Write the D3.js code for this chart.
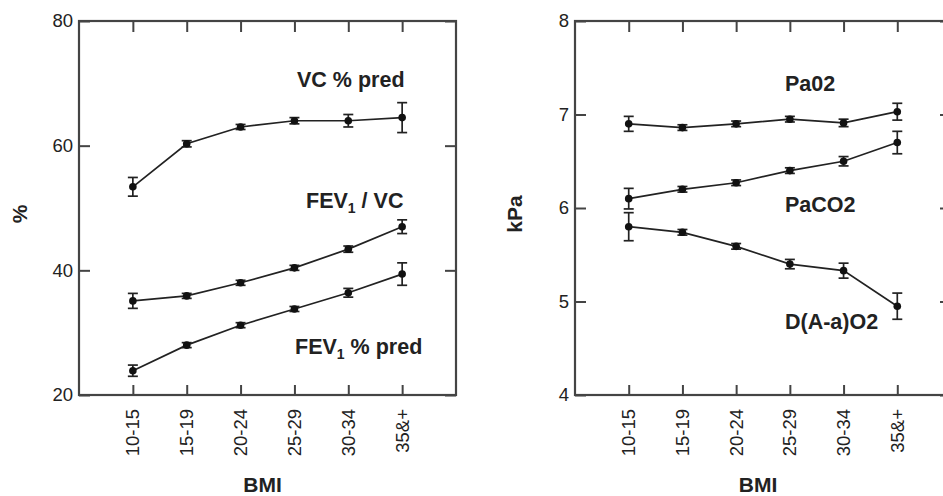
<!DOCTYPE html>
<html>
<head>
<meta charset="utf-8">
<script src="https://cdn.jsdelivr.net/npm/d3@7"></script>
<style>
  body { margin: 0; background: #fff; }
  svg { display: block; font-family: "Liberation Sans", Arial, sans-serif; }
  .tick-label { font-size: 18.5px; fill: #222; }
  .series-label { font-size: 21.5px; font-weight: bold; fill: #222; }
  .axis-title { font-size: 21px; font-weight: bold; fill: #222; }
</style>
</head>
<body>
<svg id="chart" width="943" height="496"></svg>
<script>
// categories on the x axis, shared by both panels
const bmiGroups = ["10-15", "15-19", "20-24", "25-29", "30-34", "35&+"];

// left panel, values in %
const vcPred = [53.4, 60.3, 63.0, 64.0, 64.0, 64.5];
const vcPredErr = [1.5, 0.5, 0.4, 0.5, 1.0, 2.4];
const fevVc = [35.1, 35.9, 38.0, 40.4, 43.4, 47.0];
const fevVcErr = [1.2, 0.4, 0.4, 0.4, 0.5, 1.1];
const fevPred = [23.9, 28.0, 31.2, 33.8, 36.4, 39.4];
const fevPredErr = [0.9, 0.4, 0.4, 0.4, 0.7, 1.8];
const leftTicks = [20, 40, 60, 80];

// right panel, values in kPa
const paO2 = [6.90, 6.86, 6.90, 6.95, 6.91, 7.03];
const paO2Err = [0.08, 0.03, 0.03, 0.03, 0.04, 0.09];
const paCO2 = [6.10, 6.20, 6.27, 6.40, 6.50, 6.70];
const paCO2Err = [0.11, 0.03, 0.03, 0.03, 0.05, 0.12];
const dAaO2 = [5.80, 5.74, 5.59, 5.40, 5.33, 4.95];
const dAaO2Err = [0.15, 0.03, 0.03, 0.05, 0.08, 0.14];
const rightTicks = [4, 5, 6, 7, 8];

const svg = d3.select("#chart");

// draws one framed panel with its series
function panel(opts) {
  const x = d3.scalePoint()
    .domain(bmiGroups)
    .range([opts.left, opts.right])
    .padding(1);
  const y = d3.scaleLinear()
    .domain(opts.domain)
    .range([opts.bottom, opts.top]);

  const g = svg.append("g");

  // frame
  g.append("rect")
    .attr("x", opts.left).attr("y", opts.top)
    .attr("width", opts.right - opts.left)
    .attr("height", opts.bottom - opts.top)
    .attr("fill", "none").attr("stroke", "#444").attr("stroke-width", 2.2);

  // y axis on the left with labels, plain inner ticks on the right
  g.append("g")
    .attr("transform", `translate(${opts.left},0)`)
    .call(d3.axisRight(y).tickValues(opts.ticks).tickSize(11).tickFormat(""))
    .call(a => a.select(".domain").remove())
    .selectAll("line").attr("stroke", "#444").attr("stroke-width", 2);
  g.append("g")
    .attr("transform", `translate(${opts.right},0)`)
    .call(d3.axisLeft(y).tickValues(opts.ticks).tickSize(11).tickFormat(""))
    .call(a => a.select(".domain").remove())
    .selectAll("line").attr("stroke", "#444").attr("stroke-width", 2);
  g.selectAll(".ylab")
    .data(opts.ticks)
    .join("text")
    .attr("class", "tick-label")
    .attr("x", opts.left - 6)
    .attr("y", d => y(d))
    .attr("dy", "0.35em")
    .attr("text-anchor", "end")
    .text(d => d);

  // x ticks, bottom and top, pointing inward
  g.append("g")
    .attr("transform", `translate(0,${opts.bottom})`)
    .call(d3.axisTop(x).tickSize(10).tickFormat(""))
    .call(a => a.select(".domain").remove())
    .selectAll("line").attr("stroke", "#444").attr("stroke-width", 2);
  g.append("g")
    .attr("transform", `translate(0,${opts.top})`)
    .call(d3.axisBottom(x).tickSize(11).tickFormat(""))
    .call(a => a.select(".domain").remove())
    .selectAll("line").attr("stroke", "#444").attr("stroke-width", 2);

  // rotated category labels
  g.selectAll(".xlab")
    .data(bmiGroups)
    .join("text")
    .attr("class", "tick-label")
    .attr("transform", d => `translate(${x(d) + 6.5},${opts.bottom + 14}) rotate(-90)`)
    .attr("text-anchor", "end")
    .text(d => d);

  // axis titles
  g.append("text")
    .attr("class", "axis-title")
    .attr("x", (opts.left + opts.right) / 2 - 5)
    .attr("y", 492)
    .attr("text-anchor", "middle")
    .text("BMI");
  g.append("text")
    .attr("class", "axis-title")
    .attr("transform", `translate(${opts.titleX},${(opts.top + opts.bottom) / 2 + 6}) rotate(-90)`)
    .attr("text-anchor", "middle")
    .text(opts.yTitle);

  const line = d3.line()
    .x((d, i) => x(bmiGroups[i]))
    .y(d => y(d));

  opts.series.forEach(s => {
    const sg = g.append("g");
    sg.append("path")
      .datum(s.values)
      .attr("d", line)
      .attr("fill", "none")
      .attr("stroke", "#222")
      .attr("stroke-width", 1.7);

    const pts = s.values.map((v, i) => ({ cat: bmiGroups[i], v: v, e: s.err[i] }));
    sg.selectAll(".eb")
      .data(pts)
      .join("line")
      .attr("x1", d => x(d.cat)).attr("x2", d => x(d.cat))
      .attr("y1", d => y(d.v - d.e)).attr("y2", d => y(d.v + d.e))
      .attr("stroke", "#222").attr("stroke-width", 1.7);
    [-1, 1].forEach(sign => {
      sg.selectAll(".cap" + sign)
        .data(pts)
        .join("line")
        .attr("x1", d => x(d.cat) - 5).attr("x2", d => x(d.cat) + 5)
        .attr("y1", d => y(d.v + sign * d.e)).attr("y2", d => y(d.v + sign * d.e))
        .attr("stroke", "#222").attr("stroke-width", 1.7);
    });
    sg.selectAll("circle")
      .data(pts)
      .join("circle")
      .attr("cx", d => x(d.cat))
      .attr("cy", d => y(d.v))
      .attr("r", 3.8)
      .attr("fill", "#111");

    const t = g.append("text")
      .attr("class", "series-label")
      .attr("x", s.labelX)
      .attr("y", s.labelY);
    s.label.forEach(part => {
      const ts = t.append("tspan").text(part.text);
      if (part.sub) ts.attr("font-size", "14px").attr("dy", "5");
      if (part.after) ts.attr("dy", "-5");
    });
  });
}

panel({
  left: 79, right: 456, top: 21, bottom: 395,
  domain: [20, 80], ticks: leftTicks,
  yTitle: "%", titleX: 27,
  series: [
    { values: vcPred, err: vcPredErr, label: [{ text: "VC % pred" }], labelX: 297, labelY: 87 },
    { values: fevVc, err: fevVcErr, label: [{ text: "FEV" }, { text: "1", sub: true }, { text: " / VC", after: true }], labelX: 306, labelY: 208 },
    { values: fevPred, err: fevPredErr, label: [{ text: "FEV" }, { text: "1", sub: true }, { text: " % pred", after: true }], labelX: 295, labelY: 354 }
  ]
});

panel({
  left: 575, right: 951, top: 21, bottom: 395,
  domain: [4, 8], ticks: rightTicks,
  yTitle: "kPa", titleX: 522,
  series: [
    { values: paO2, err: paO2Err, label: [{ text: "Pa02" }], labelX: 785, labelY: 91 },
    { values: paCO2, err: paCO2Err, label: [{ text: "PaCO2" }], labelX: 785, labelY: 212 },
    { values: dAaO2, err: dAaO2Err, label: [{ text: "D(A-a)O2" }], labelX: 785, labelY: 329 }
  ]
});
</script>
</body>
</html>
